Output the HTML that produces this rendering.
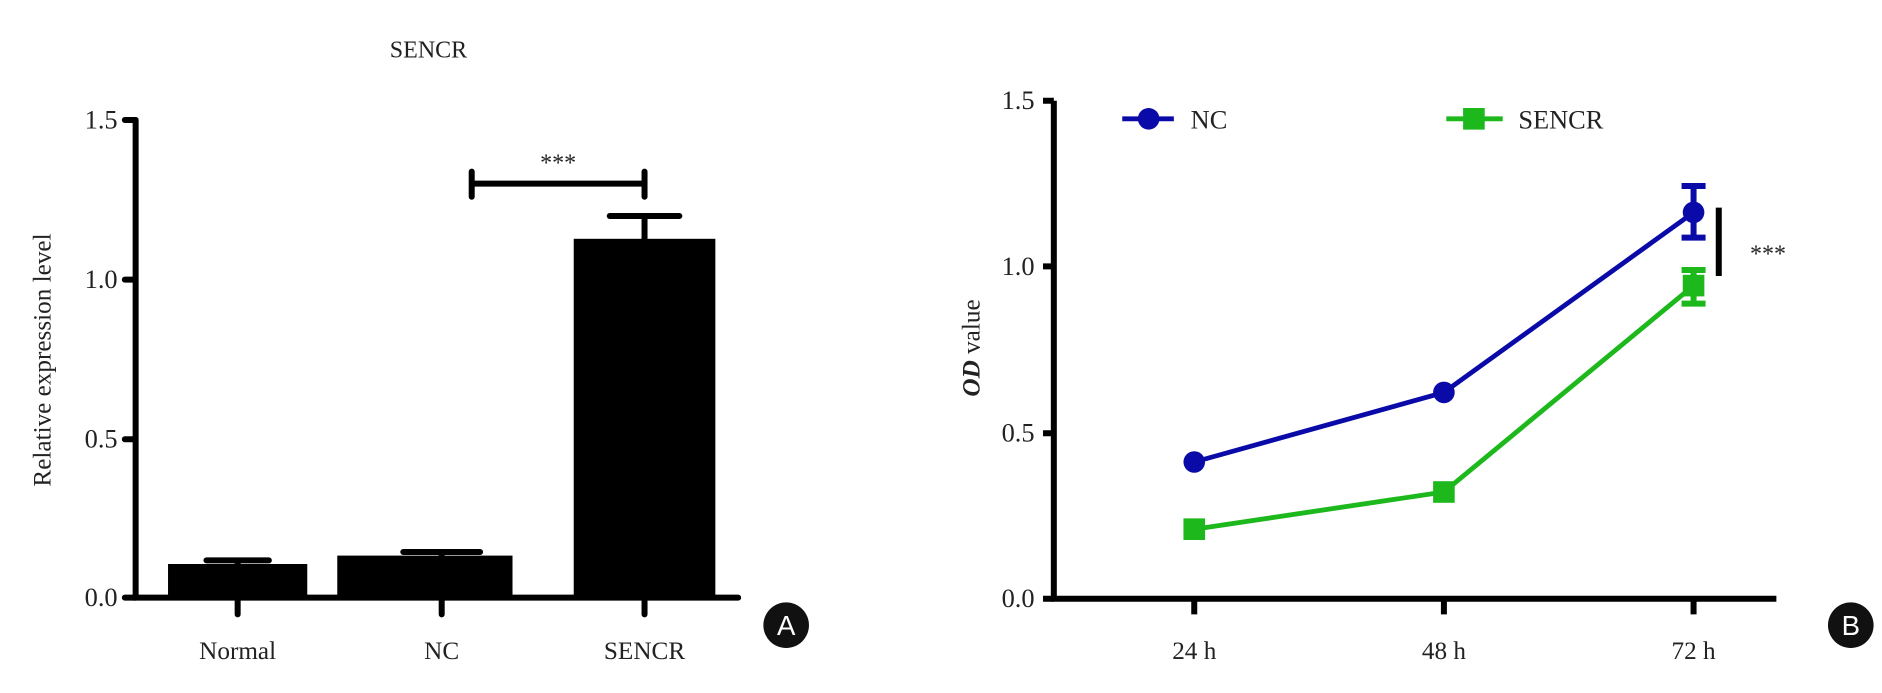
<!DOCTYPE html>
<html><head><style>body{margin:0;background:#fff}svg{display:block}</style></head>
<body>
<svg width="1882" height="693" viewBox="0 0 1568 577.5" preserveAspectRatio="none" font-family="Liberation Serif, serif" fill="#222">
<rect width="1568" height="577.5" fill="#fff"/>
<!-- Chart A -->
<text x="357" y="48" font-size="20" text-anchor="middle">SENCR</text>
<g stroke="#000" stroke-width="5" fill="none" stroke-linecap="round">
<path d="M113 100V498H615"/>
<path d="M104 100H113M104 233H113M104 366H113M104 498H113"/>
<path d="M198 498V512M368 498V512M537 498V512"/>
<path d="M393 153H537M393 143V164M537 143V164"/>
<path d="M537 199V180M508 180H566"/>
<path d="M198 470V467M172 467H224M368 463V460M336 460H400"/>
</g>
<rect x="140" y="470" width="116" height="28" fill="#000"/>
<rect x="281" y="463" width="146" height="35" fill="#000"/>
<rect x="478" y="199" width="118" height="299" fill="#000"/>
<text x="465" y="142" font-size="20" text-anchor="middle">***</text>
<g font-size="22" text-anchor="end">
<text x="98" y="107">1.5</text><text x="98" y="240">1.0</text><text x="98" y="373">0.5</text><text x="98" y="505">0.0</text>
</g>
<g font-size="21" text-anchor="middle">
<text x="198" y="549">Normal</text><text x="368" y="549">NC</text><text x="537" y="549">SENCR</text>
</g>
<text transform="translate(42,300) rotate(-90)" font-size="21" text-anchor="middle">Relative expression level</text>
<circle cx="655" cy="521" r="19" fill="#111"/>
<text x="655" y="529" font-family="Liberation Sans, sans-serif" font-size="23" fill="#fff" text-anchor="middle">A</text>

<!-- Chart B -->
<g stroke="#000" stroke-width="5" fill="none">
<path d="M878 84V499H1480"/>
<path d="M869 84H878M869 222H878M869 361H878M869 499H878"/>
<path d="M995 499V512M1203 499V512M1411 499V512"/>
<path d="M1432 173V230"/>
</g>
<g font-size="22" text-anchor="end">
<text x="862" y="91">1.5</text><text x="862" y="229">1.0</text><text x="862" y="368">0.5</text><text x="862" y="506">0.0</text>
</g>
<g font-size="21" text-anchor="middle">
<text x="995" y="549">24 h</text><text x="1203" y="549">48 h</text><text x="1411" y="549">72 h</text>
</g>
<text transform="translate(816,290) rotate(-90)" font-size="21" text-anchor="middle"><tspan font-style="italic" font-weight="bold">OD</tspan> value</text>
<text x="1458" y="218" font-size="20">***</text>
<!-- NC -->
<g stroke="#0a0aa8" stroke-width="4" fill="none">
<polyline points="995,385 1203,327 1411,177"/>
<path d="M1411 155V198M1401 155H1421M1401 198H1421" stroke-width="5"/>
<path d="M935 99H978"/>
</g>
<g fill="#0a0aa8"><circle cx="995" cy="385" r="9"/><circle cx="1203" cy="327" r="9"/><circle cx="1411" cy="177" r="9"/><circle cx="957" cy="99" r="9"/></g>
<text x="992" y="107" font-size="22">NC</text>
<!-- SENCR -->
<g stroke="#1cb81c" stroke-width="4" fill="none">
<polyline points="995,441 1203,410 1411,238"/>
<path d="M1411 225V253M1401 225H1421M1401 253H1421" stroke-width="5"/>
<path d="M1205 99H1252"/>
</g>
<g fill="#1cb81c"><rect x="986" y="432" width="18" height="18"/><rect x="1194" y="401" width="18" height="18"/><rect x="1402" y="229" width="18" height="18"/><rect x="1219" y="90" width="18" height="18"/></g>
<text x="1265" y="107" font-size="22">SENCR</text>
<circle cx="1542" cy="521" r="19" fill="#111"/>
<text x="1542" y="529" font-family="Liberation Sans, sans-serif" font-size="23" fill="#fff" text-anchor="middle">B</text>
</svg>
</body></html>
